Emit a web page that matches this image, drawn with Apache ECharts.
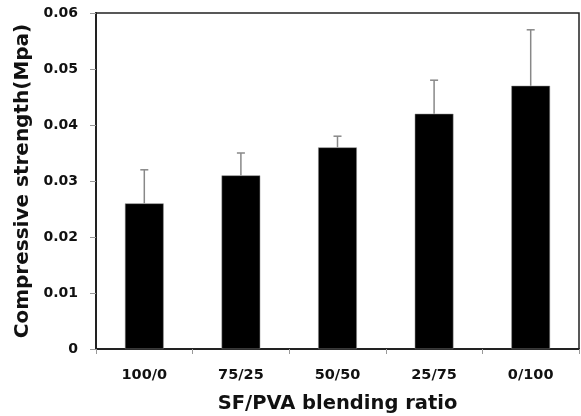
<!DOCTYPE html>
<html><head><meta charset="utf-8">
<script src="https://cdn.jsdelivr.net/npm/echarts@6/dist/echarts.min.js"></script>
<style>html,body{margin:0;padding:0;background:#fff}#c{width:581px;height:416px}</style>
</head><body><div id="c"></div>
<script>
const categories = ['100/0', '75/25', '50/50', '25/75', '0/100'];
const strength = [0.026, 0.031, 0.036, 0.042, 0.047];
const errorUp = [0.006, 0.004, 0.002, 0.006, 0.010];
const yTicks = [0, 0.01, 0.02, 0.03, 0.04, 0.05, 0.06];

const chart = echarts.init(document.getElementById('c'), null, {renderer: 'canvas'});
const font = 'DejaVu Sans';
chart.setOption({
  animation: false,
  grid: {left: 96, right: 2, top: 13, bottom: 67, show: true, borderColor: '#222', borderWidth: 1.5, backgroundColor: 'transparent', containLabel: false, outerBoundsMode: 'none'},
  xAxis: {
    type: 'category', data: categories,
    name: 'SF/PVA blending ratio', nameLocation: 'middle', nameGap: 45,
    nameTextStyle: {fontFamily: font, fontWeight: 'bold', fontSize: 19.5, color: '#111'},
    axisLine: {lineStyle: {color: '#222', width: 2}},
    axisTick: {show: true, length: 5, lineStyle: {color: '#999'}},
    axisLabel: {fontFamily: font, fontWeight: 'bold', fontSize: 14.5, color: '#111', margin: 19}
  },
  yAxis: {
    type: 'value', min: 0, max: 0.06, interval: 0.01,
    name: 'Compressive strength(Mpa)', nameLocation: 'middle', nameGap: 62,
    nameTextStyle: {fontFamily: font, fontWeight: 'bold', fontSize: 20, color: '#111'},
    axisLine: {show: true, lineStyle: {color: '#222', width: 2}},
    axisTick: {show: true, length: 6, lineStyle: {color: '#999'}},
    splitLine: {show: false},
    axisLabel: {fontFamily: font, fontWeight: 'bold', fontSize: 14, color: '#111', margin: 18,
      formatter: v => { const t = yTicks.find(x => Math.abs(x - v) < 1e-9); return t === 0 ? '0' : (t !== undefined ? t.toFixed(2) : ''); }}
  },
  series: [
    {type: 'bar', data: strength, barWidth: '40%', itemStyle: {color: '#000', borderColor: '#888', borderWidth: 0.5}},
    {type: 'custom', z: 3,
      data: strength.map((v, i) => [i, v, v + errorUp[i]]),
      renderItem: (params, api) => {
        const base = api.coord([api.value(0), api.value(1)]);
        const top = api.coord([api.value(0), api.value(2)]);
        const x = base[0];
        const style = {stroke: '#888', lineWidth: 1.5};
        return {type: 'group', children: [
          {type: 'line', shape: {x1: x, y1: base[1], x2: x, y2: top[1]}, style},
          {type: 'line', shape: {x1: x - 4, y1: top[1], x2: x + 4, y2: top[1]}, style}
        ]};
      }
    }
  ]
});
</script></body></html>
